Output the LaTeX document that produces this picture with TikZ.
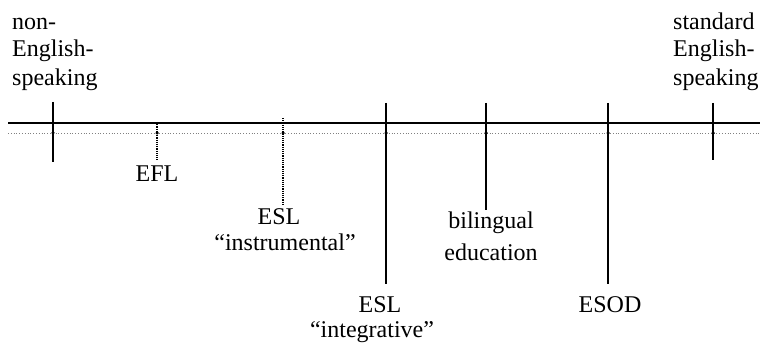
\documentclass[tikz,border=0pt]{standalone}
\usepackage{fontspec}
\setmainfont{Liberation Serif}
\begin{document}
\begin{tikzpicture}[x=1pt,y=-1pt,
  lbl/.style={inner sep=0pt, font=\fontsize{24}{28}\selectfont},
  tick/.style={line width=1.3pt},
  dtick/.style={line width=1.2pt, densely dotted},
  axis/.style={line width=1.2pt},
  axdot/.style={line width=0.8pt, dotted, gray},
  pt/.style={circle, fill, inner sep=0pt, minimum size=3.5pt}]
\useasboundingbox (0,0) rectangle (765,347);
% axis
\coordinate (aL) at (8,123);
\coordinate (aR) at (760,123);
\coordinate (bL) at (8,133);
\coordinate (bR) at (760,133);
\draw[axis] (aL) -- (aR);
\draw[axdot] (bL) -- (bR);
% tick points
\node[pt] (p1) at (53,133) {};
\node[pt] (p2) at (157,133) {};
\node[pt] (p3) at (283,133) {};
\node[pt] (p4) at (386,133) {};
\node[pt] (p5) at (486,133) {};
\node[pt] (p6) at (608,133) {};
\node[pt] (p7) at (713,133) {};
% tick ends
\coordinate (t1) at (53,102);  \coordinate (b1) at (53,162);
\coordinate (t2) at (157,122); \coordinate (b2) at (157,160);
\coordinate (t3) at (283,118); \coordinate (b3) at (283,205);
\coordinate (t4) at (386,103); \coordinate (b4) at (386,284);
\coordinate (t5) at (486,103); \coordinate (b5) at (486,210);
\coordinate (t6) at (608,103); \coordinate (b6) at (608,284);
\coordinate (t7) at (713,103); \coordinate (b7) at (713,160);
\draw[tick] (t1) -- (b1);
\draw[dtick] (t2) -- (b2);
\draw[dtick] (t3) -- (b3);
\draw[tick] (t4) -- (b4);
\draw[tick] (t5) -- (b5);
\draw[tick] (t6) -- (b6);
\draw[tick] (t7) -- (b7);
% labels
\node[lbl, anchor=base west] (nes1) at (12,30) {non-};
\node[lbl, anchor=base west] (nes2) at (12,57) {English-};
\node[lbl, anchor=base west] (nes3) at (12,86) {speaking};
\node[lbl, anchor=base west] (ses1) at (673,30) {standard};
\node[lbl, anchor=base west] (ses2) at (673,57) {English-};
\node[lbl, anchor=base west] (ses3) at (673,86) {speaking};
\node[lbl, anchor=base] (efl) at (157,182) {EFL};
\node[lbl, anchor=base] (esli1) at (279,225) {ESL};
\node[lbl, anchor=base] (esli2) at (285,251) {``instrumental''};
\node[lbl, anchor=base] (eslg1) at (380,312) {ESL};
\node[lbl, anchor=base] (eslg2) at (372,337) {``integrative''};
\node[lbl, anchor=base] (bil1) at (491,229) {bilingual};
\node[lbl, anchor=base] (bil2) at (491,260) {education};
\node[lbl, anchor=base] (esod) at (610,312) {ESOD};
\end{tikzpicture}
\end{document}
